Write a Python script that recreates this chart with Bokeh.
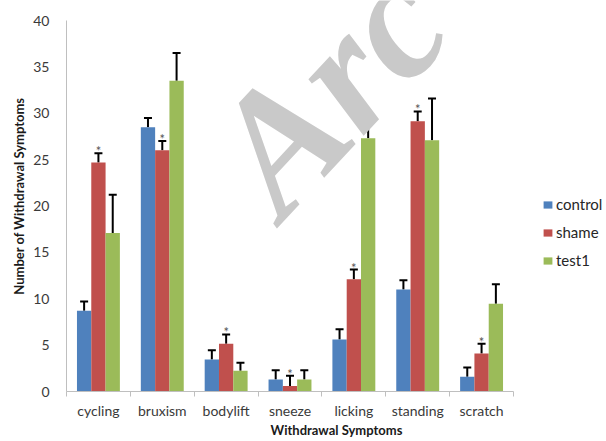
from bokeh.plotting import figure
from bokeh.models import (ColumnDataSource, Range1d, FixedTicker, Whisker, TeeHead,
                          Legend, LegendItem, Label)
from bokeh.transform import dodge
from bokeh.core.properties import value
from bokeh.embed import file_html
from bokeh.resources import INLINE

categories = ["cycling", "bruxism", "bodylift", "sneeze", "licking", "standing", "scratch"]
series_names = ["control", "shame", "test1"]
control = [8.7, 28.5, 3.45, 1.3, 5.6, 11.0, 1.6]
control_err = [1.0, 1.0, 1.0, 1.0, 1.1, 1.0, 1.0]
shame = [24.7, 26.0, 5.15, 0.6, 12.1, 29.15, 4.1]
shame_err = [1.0, 1.0, 1.0, 1.1, 1.05, 1.05, 1.05]
test1 = [17.1, 33.5, 2.25, 1.3, 27.3, 27.1, 9.45]
test1_err = [4.1, 3.0, 0.85, 1.0, 2.2, 4.5, 2.1]
significance = ["*", "*", "*", "*", "*", "*", "*"]
y_ticks = [0, 5, 10, 15, 20, 25, 30, 35, 40]
y_max = 40
watermark = "Arc"
colors = ["#4F81BD", "#C0504D", "#9BBB59"]

FONT = "Lato"
TXT = "#3a3a3a"

W, H = 606, 441
LEFT, BOTTOM = 66, 50
frame_w, frame_h = W - LEFT, H - BOTTOM
n = len(categories)
px_per_cat = 447 / n
top_gap = 20
px_per_unit = (frame_h - top_gap) / y_max
x_end = frame_w / px_per_cat
y_end = frame_h / px_per_unit

centers = [i + 0.5 for i in range(n)]

p = figure(width=W, height=H, x_range=Range1d(0, x_end), y_range=Range1d(0, y_end),
           output_backend="svg", toolbar_location=None,
           min_border_left=LEFT, min_border_right=0, min_border_top=0,
           min_border_bottom=BOTTOM)
p.outline_line_color = None
p.xgrid.visible = False
p.ygrid.visible = False

bw = 0.224
offsets = [-bw, 0.0, bw]
all_vals = [control, shame, test1]
all_errs = [control_err, shame_err, test1_err]
items = []
for name, vals, errs, off, col in zip(series_names, all_vals, all_errs, offsets, colors):
    src = ColumnDataSource(dict(x=centers, top=vals,
                                upper=[v + e for v, e in zip(vals, errs)]))
    r = p.vbar(x=dodge("x", off, range=p.x_range), top="top", bottom=0, width=bw,
               source=src, fill_color=col, line_color=None)
    items.append(LegendItem(label=name, renderers=[r]))
    w = Whisker(base=dodge("x", off, range=p.x_range), upper="upper", lower="top",
                source=src, line_color="black", line_width=2,
                upper_head=TeeHead(size=8, line_width=2, line_color="black"),
                lower_head=None)
    p.add_layout(w)
    if name == "shame":
        src.data["sig"] = significance
        p.text(x=dodge("x", off, range=p.x_range), y="upper", text="sig", source=src,
               text_align="center", text_baseline="alphabetic", y_offset=-2,
               text_font=value(FONT), text_font_size="13px", text_color="#555555")

legend = Legend(items=items, location=(476, frame_h - 269), border_line_color=None,
                background_fill_alpha=0, padding=0, margin=0, spacing=10,
                glyph_width=11, glyph_height=9, label_height=9, label_standoff=3,
                label_text_font=FONT, label_text_font_size="15px",
                label_text_color="#262626", label_text_baseline="middle")
p.add_layout(legend)

# x axis
p.xaxis.ticker = FixedTicker(ticks=centers, minor_ticks=list(range(n + 1)))
p.xaxis.major_label_overrides = {c: lab for c, lab in zip(centers, categories)}
p.xaxis.bounds = (0, n)
p.xaxis.major_tick_out = 0
p.xaxis.major_tick_in = 0
p.xaxis.minor_tick_out = 5
p.xaxis.minor_tick_in = 0
p.xaxis.minor_tick_line_color = "#bfbfbf"
p.xaxis.axis_line_color = "#bfbfbf"
p.xaxis.major_label_standoff = 5
p.xaxis.major_label_text_font = FONT
p.xaxis.major_label_text_font_size = "14px"
p.xaxis.major_label_text_color = TXT
p.xaxis.axis_label = "Withdrawal Symptoms"
p.xaxis.axis_label_standoff = 0
p.xaxis.axis_label_text_font = FONT
p.xaxis.axis_label_text_font_style = "bold"
p.xaxis.axis_label_text_font_size = "13px"
p.xaxis.axis_label_text_color = "#1a1a1a"

# y axis
p.yaxis.ticker = FixedTicker(ticks=y_ticks)
p.yaxis.bounds = (0, y_max)
p.yaxis.major_tick_out = 0
p.yaxis.major_tick_in = 0
p.yaxis.minor_tick_out = 0
p.yaxis.minor_tick_in = 0
p.yaxis.axis_line_color = "#bfbfbf"
p.yaxis.major_label_standoff = 17
p.yaxis.major_label_text_font = FONT
p.yaxis.major_label_text_font_size = "14px"
p.yaxis.major_label_text_color = TXT
p.yaxis.axis_label = "Number of Withdrawal Symptoms"
p.yaxis.axis_label_standoff = 3
p.yaxis.axis_label_text_font = FONT
p.yaxis.axis_label_text_font_style = "bold"
p.yaxis.axis_label_text_font_size = "13px"
p.yaxis.axis_label_text_color = "#1a1a1a"

# watermark (font size avoids "N00px", which the SVG font parser misreads as a weight)
wm = Label(x=(240 - LEFT) / px_per_cat, y=(frame_h - 182) / px_per_unit, text=watermark,
           angle=47, angle_units="deg",
           text_font="Liberation Serif", text_font_style="bold italic",
           text_font_size="172px", text_color="#c9c9c9",
           text_baseline="alphabetic", text_align="left")
p.add_layout(wm)

open("out.html", "w").write(file_html(p, INLINE))
